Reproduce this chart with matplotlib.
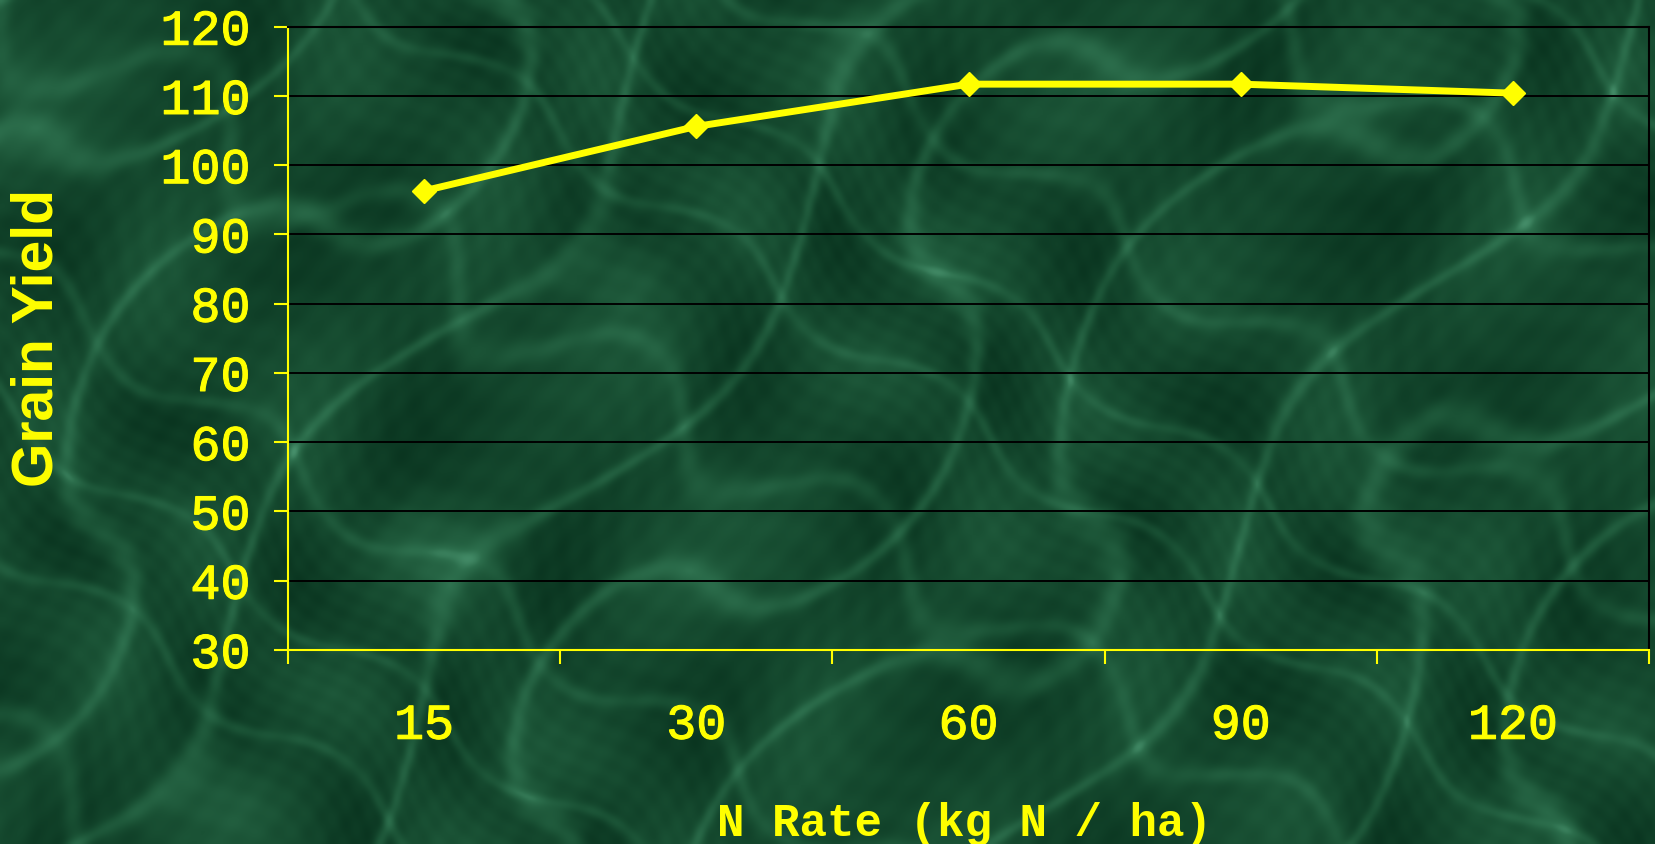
import numpy as np
import matplotlib.pyplot as plt
import matplotlib.patheffects as pe
from matplotlib.colors import LinearSegmentedColormap

rates = ['15', '30', '60', '90', '120']
grain_yield = [96.3, 105.6, 111.7, 111.7, 110.4]
y_ticks = [30, 40, 50, 60, 70, 80, 90, 100, 110, 120]

YELLOW = '#ffff00'
MONO = 'Liberation Mono'

fig = plt.figure(figsize=(16.56, 8.44), dpi=100)

# green marble backdrop, built from a few layered sine waves
bg = fig.add_axes([0, 0, 1, 1], zorder=-10)
yy, xx = np.mgrid[0:422, 0:828] / 60.0
warp = 1.4 * np.sin(0.9 * yy - 0.7 * xx) + 0.7 * np.sin(2.3 * xx + 1.7 * yy)
veins = np.exp(-np.sin(1.6 * xx + 1.2 * yy + warp) ** 2 / 0.04)
veins2 = np.exp(-np.sin(1.3 * xx - 1.9 * yy + 0.8 * warp) ** 2 / 0.03)
blotch = 0.5 + 0.5 * np.sin(2.9 * xx + 0.6 * warp) * np.sin(2.4 * yy - 0.5 * warp)
grain = 0.5 + 0.5 * np.sin(23 * xx + 5 * warp) * np.sin(19 * yy - 4 * warp)
tex = 0.32 * blotch + 0.3 * veins + 0.2 * veins2 + 0.08 * grain
marble = LinearSegmentedColormap.from_list(
    'marble', ['#0a3520', '#1a5235', '#2c6e4c', '#5aa882'])
bg.imshow(tex, cmap=marble, aspect='auto', interpolation='bilinear',
          vmin=0, vmax=1.0)
bg.axis('off')

ax = fig.add_axes([0.1739, 0.2299, 0.8219, 0.7385])
ax.patch.set_alpha(0)

x = np.arange(len(rates))
ax.plot(x, grain_yield, color=YELLOW, lw=5, marker='D', ms=12.5,
        mec=YELLOW, mew=1, zorder=3)

ax.set_xlim(-0.5, len(rates) - 0.5)
ax.set_ylim(30, 120)

# category ticks sit between the groups, labels in the middle
ax.set_xticks(np.arange(-0.5, len(rates), 1))
ax.set_xticklabels([])
ax.set_xticks(x, minor=True)
ax.set_xticklabels(rates, minor=True)
ax.set_yticks(y_ticks)

ax.set_axisbelow(True)
ax.yaxis.grid(True, color='black', lw=1.4)

ax.spines['left'].set_color(YELLOW)
ax.spines['bottom'].set_color(YELLOW)
ax.spines['right'].set_color('black')
ax.spines['top'].set_color('black')
for s in ax.spines.values():
    s.set_linewidth(1.5)

ax.tick_params(axis='both', which='major', direction='out', length=10,
               width=1.5, color=YELLOW)
ax.tick_params(axis='x', which='minor', length=0, pad=38)
ax.tick_params(axis='y', pad=17)
# a thin outline of the same colour makes the digits a little heavier
heavy = [pe.withStroke(linewidth=0.8, foreground=YELLOW)]
for lab in ax.get_yticklabels() + ax.get_xticklabels(minor=True):
    lab.set_fontfamily(MONO)
    lab.set_fontsize(36)
    lab.set_color(YELLOW)
    lab.set_path_effects(heavy)

fig.text(965 / 1656, 1 - 836 / 844, 'N Rate (kg N / ha)', color=YELLOW,
         family=MONO, weight='bold', fontsize=33, ha='center', va='baseline')
fig.text(38 / 1656, 1 - 338 / 844, 'Grain Yield', color=YELLOW,
         family='Liberation Sans', weight='bold', fontsize=41,
         rotation=90, ha='center', va='center')

fig.savefig('out.png', dpi=100)
